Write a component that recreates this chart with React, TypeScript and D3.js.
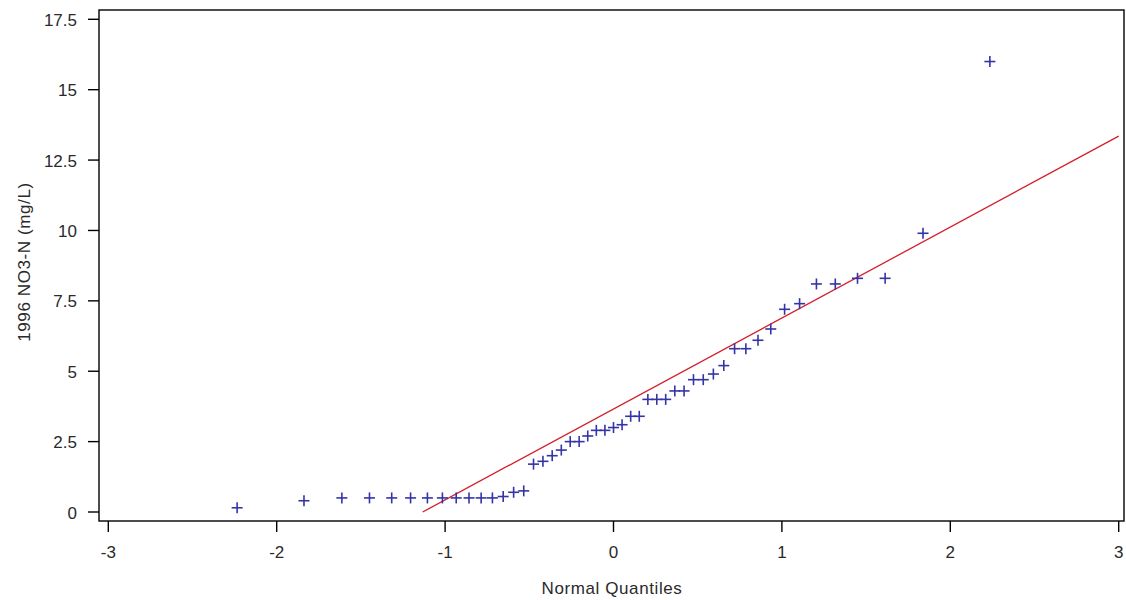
import React from "react";
import * as d3 from "d3";

// Normal quantiles (x)
const quantiles: number[] = [
  -2.235, -1.838, -1.613, -1.449, -1.317, -1.205, -1.105, -1.016, -0.934, -0.858,
  -0.786, -0.719, -0.655, -0.593, -0.533, -0.475, -0.419, -0.364, -0.31, -0.257,
  -0.204, -0.153, -0.102, -0.051, 0, 0.051, 0.102, 0.153, 0.204, 0.257,
  0.31, 0.364, 0.419, 0.475, 0.533, 0.593, 0.655, 0.719, 0.786, 0.858,
  0.934, 1.016, 1.105, 1.205, 1.317, 1.449, 1.613, 1.838, 2.235,
];

// 1996 NO3-N (mg/L) sorted values
const no3Values: number[] = [
  0.15, 0.4, 0.5, 0.5, 0.5, 0.5, 0.5, 0.5, 0.5, 0.5,
  0.5, 0.5, 0.55, 0.7, 0.75, 1.7, 1.8, 2.0, 2.2, 2.5,
  2.5, 2.7, 2.9, 2.9, 3.0, 3.1, 3.4, 3.4, 4.0, 4.0,
  4.0, 4.3, 4.3, 4.7, 4.7, 4.9, 5.2, 5.8, 5.8, 6.1,
  6.5, 7.2, 7.4, 8.1, 8.1, 8.3, 8.3, 9.9, 16.0,
];

// Reference line: intercept (mean) and slope (sd)
const lineIntercept = 3.66;
const lineSlope = 3.23;

const xTicks: number[] = [-3, -2, -1, 0, 1, 2, 3];
const xTickLabels: string[] = ["-3", "-2", "-1", "0", "1", "2", "3"];
const yTicks: number[] = [0, 2.5, 5, 7.5, 10, 12.5, 15, 17.5];
const yTickLabels: string[] = ["0", "2.5", "5", "7.5", "10", "12.5", "15", "17.5"];

const xTitle = "Normal Quantiles";
const yTitle = "1996 NO3-N (mg/L)";

export default function App() {
  const W = 1126;
  const H = 600;
  const frame = { left: 99, right: 1124, top: 10, bottom: 521 };

  const x = d3.scaleLinear().domain([-3, 3]).range([108.3, 1118.7]);
  const y = d3.scaleLinear().domain([0, 17.5]).range([512, 19.3]);

  const lineFn = (q: number) => lineIntercept + lineSlope * q;
  const qStart = -lineIntercept / lineSlope;
  const qEnd = 3;
  const linePath = d3.line<number>()
    .x((q) => x(q))
    .y((q) => y(lineFn(q)))([qStart, qEnd]);

  const font = "'Liberation Sans', Arial, sans-serif";
  const textColor = "#2a2a2a";
  const pts = quantiles.map((q, i) => ({ q, v: no3Values[i] }));
  const arm = 5.5;

  return (
    <svg
      width={W}
      height={H}
      style={{ position: "absolute", left: 0, top: 0, display: "block", background: "#fff" }}
      fontFamily={font}
    >
      <rect x={0} y={0} width={W} height={H} fill="#fff" />
      {/* frame */}
      <rect
        x={frame.left}
        y={frame.top}
        width={frame.right - frame.left}
        height={frame.bottom - frame.top}
        fill="none"
        stroke="#000"
        strokeWidth={1.4}
      />
      {/* y axis ticks */}
      {yTicks.map((t, i) => (
        <g key={"yt" + i}>
          <line x1={88} x2={frame.left} y1={y(t)} y2={y(t)} stroke="#000" strokeWidth={1.4} />
          <text
            x={77}
            y={y(t) + 1}
            textAnchor="end"
            dominantBaseline="central"
            fontSize={17}
            fill={textColor}
          >
            {yTickLabels[i]}
          </text>
        </g>
      ))}
      {/* x axis ticks */}
      {xTicks.map((t, i) => (
        <g key={"xt" + i}>
          <line x1={x(t)} x2={x(t)} y1={frame.bottom} y2={532} stroke="#000" strokeWidth={1.4} />
          <text x={x(t)} y={558} textAnchor="middle" fontSize={17} fill={textColor}>
            {xTickLabels[i]}
          </text>
        </g>
      ))}
      {/* titles */}
      <text
        x={612}
        y={594}
        textAnchor="middle"
        fontSize={17}
        letterSpacing={0.6}
        fill={textColor}
      >
        {xTitle}
      </text>
      <text
        transform={`translate(30,262) rotate(-90)`}
        textAnchor="middle"
        fontSize={17}
        letterSpacing={0.6}
        fill={textColor}
      >
        {yTitle}
      </text>
      {/* reference line */}
      <path d={linePath || ""} fill="none" stroke="#d41f2a" strokeWidth={1.3} />
      {/* points */}
      {pts.map((p, i) => (
        <g key={"p" + i} stroke="#3434a8" strokeWidth={1.6}>
          <line x1={x(p.q) - arm} x2={x(p.q) + arm} y1={y(p.v)} y2={y(p.v)} />
          <line x1={x(p.q)} x2={x(p.q)} y1={y(p.v) - arm} y2={y(p.v) + arm} />
        </g>
      ))}
    </svg>
  );
}
